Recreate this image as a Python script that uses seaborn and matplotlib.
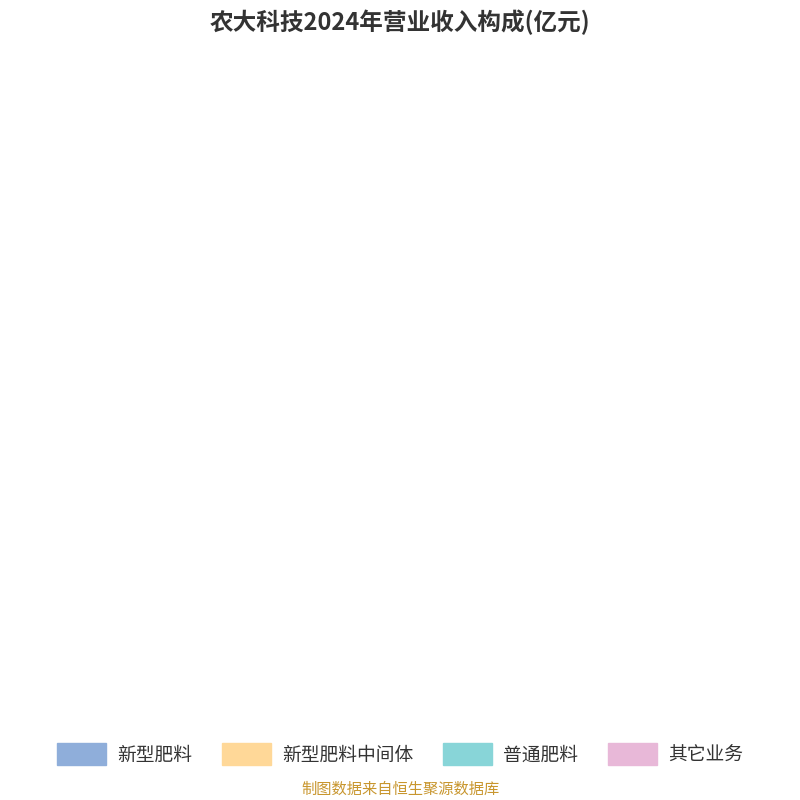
import numpy as np
import matplotlib
matplotlib.use('Agg')
import matplotlib.pyplot as plt
import seaborn as sns
from matplotlib.patches import FancyBboxPatch

sns.set_theme(style="white")
plt.rcParams['font.family'] = ['Noto Sans CJK SC', 'DejaVu Sans']

# 数据
names = ['新型肥料', '新型肥料中间体', '普通肥料', '其它业务']
values = [19.24, 3.023, 1.236, 0.133]
value_labels = ['19.24', '3.023', '1.236', '0.133']
colors = ['#8FAEDA', '#FFD898', '#88D5D8', '#E8B8D8']

# 引导线样式: 拐点半径, 水平长度(带方向)
elbow_r = [235, 200, 215, 252]
horiz = [40, -70, -112, -30]

fig = plt.figure(figsize=(8, 8), dpi=100)
ax = fig.add_axes([0, 0, 1, 1])
ax.set_xlim(-400, 400)
ax.set_ylim(-400, 400)
ax.set_aspect('equal')
ax.axis('off')

wedges, _ = ax.pie(values, radius=200, center=(0, 0), startangle=90, counterclock=False,
                   colors=colors, wedgeprops=dict(width=80, edgecolor='white', linewidth=1.5))

for w, name, lab, c, er, h in zip(wedges, names, value_labels, colors, elbow_r, horiz):
    mid = np.deg2rad((w.theta1 + w.theta2) / 2)
    p0 = (200 * np.cos(mid), 200 * np.sin(mid))
    p1 = (er * np.cos(mid), er * np.sin(mid))
    p2 = (p1[0] + h, p1[1])
    ax.plot([p0[0], p1[0], p2[0]], [p0[1], p1[1], p2[1]], color=c, lw=1.2)
    tx = p2[0] + (5 if h > 0 else -5)
    ha = 'left' if h > 0 else 'right'
    ax.text(tx, p2[1] + 1, name, color=c, fontsize=13.5, ha=ha, va='bottom')
    ax.text(tx, p2[1] + 2, lab, color=c, fontsize=13.5, ha=ha, va='top')

fig.text(0.5, 0.972, '农大科技2024年营业收入构成(亿元)', ha='center', va='center',
         fontsize=17, fontweight='bold', color='#333333')

# 图例
handles = [FancyBboxPatch((0, 0), 1, 1, boxstyle='round,pad=0.1', color=c) for c in colors]
fig.legend(handles, names, loc='center', bbox_to_anchor=(0.5, 0.057), ncol=4, frameon=False,
           fontsize=13.5, handlelength=2.6, handleheight=1.4, columnspacing=1.6, handletextpad=0.6,
           labelcolor='#333333')

fig.text(0.5, 0.014, '制图数据来自恒生聚源数据库', ha='center', va='center', fontsize=11, color='#C8962E')

fig.savefig('out.png', dpi=100)
